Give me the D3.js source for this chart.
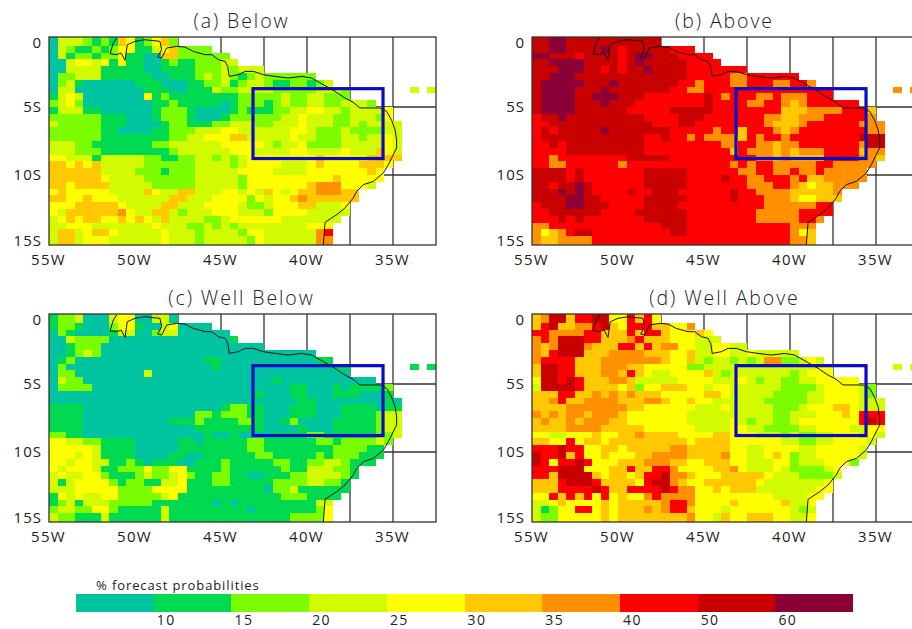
<!DOCTYPE html>
<html><head><meta charset="utf-8">
<script src="https://cdn.jsdelivr.net/npm/d3@7"></script>
<style>
html,body{margin:0;padding:0;background:#fff;overflow:hidden}
text{font-family:"Open Sans","DejaVu Sans",sans-serif;fill:#222}
</style></head><body>
<svg id="c" width="912" height="629"></svg>
<script>
// Probability class of each 0.5 degree cell: one character per column, from 55W eastward, one row per 0.5 degree of latitude.
const classColors=["#00c4a0","#00da50","#7cfc00","#d2fa00","#ffff00","#ffc800","#ff9000","#ff0000","#c80000","#8c0038"];
const barTickLabels=["10","15","20","25","30","35","40","50","60"];
const panelTitles=["(a) Below","(b) Above","(c) Well Below","(d) Well Above"];
const lonTicks=[-55,-50,-45,-40,-35];
const lonLabels=["55W","50W","45W","40W","35W"];
const latTicks=[-0.3,-5,-10,-14.85];
const latLabels=["0","5S","10S","15S"];
const gridLons=[-52.5,-50,-47.5,-45,-42.5,-40,-37.5,-35];
const gridLats=[-5,-10];
const boxLons=[-43.14,-35.58];
const boxLats=[-3.65,-8.79];
const coast=[[-51.07,0.07],[-51.26,-0.29],[-51.45,-1.08],[-51.07,-1.15],[-50.81,-1.03],[-50.58,-1.57],[-50.45,-0.42],[-50,-0.17],[-49.42,-0.05],[-48.55,-0.17],[-48.45,-0.78],[-48.68,-1.32],[-48.45,-1.4],[-48.16,-0.66],[-47.58,-0.54],[-47.09,-0.59],[-46.61,-0.91],[-45.93,-1.15],[-45.54,-1.15],[-45.15,-1.52],[-44.77,-1.64],[-44.61,-2.01],[-44.52,-2.75],[-43.99,-2.62],[-43.6,-2.38],[-43.12,-2.38],[-42.54,-2.62],[-41.86,-2.75],[-41.09,-2.87],[-40.31,-2.75],[-39.73,-2.87],[-38.95,-3.43],[-38.37,-3.85],[-37.79,-4.34],[-37.31,-4.66],[-36.92,-5.07],[-35.76,-5.07],[-35.37,-5.32],[-35.08,-5.98],[-34.88,-6.67],[-34.79,-7.4],[-34.79,-8.01],[-35.08,-8.75],[-35.27,-9.24],[-35.56,-9.85],[-36.14,-10.47],[-36.72,-10.71],[-37.11,-11.2],[-37.31,-11.69],[-37.79,-12.43],[-38.27,-12.92],[-38.95,-13.48],[-39.05,-15.15]];

const belowRows=[
"033321215412452",
"0321121244113452222",
"031221224110055222222",
"0034434141100121122233",
"0033331111100111122232333",
"0223331111110011123232123222222",
"023100000011100011223123321122123",
"03300000000111001113223333222223332.......3.3",
"13430000000412111111112222232233222",
"23420000000011211111012221232233223332",
"1333110000001222100001211122334433233334",
"2222221110001222100012222223343332233324",
"32222211100001221112233322333433322323333",
"22222211000011222333443333334432223222233",
"22222211111111223344455333334332223323343",
"33322111111122333333444443233422223333343",
"33322211111111233333344433334433334333543",
"44333133333221122332323444444445444445555",
"5545453333322222233332344443334544445554",
"555555333322212223333344443333444444454",
"555555433332222223333324444444444544444",
"55455553333322222333332444444456664443",
"454444433335433553334434354345566655",
"554454443333335533344442434456555555",
"44455555433335533344443223444553334",
"43555555643355323334443332444433333",
"3454554454543533332234444443333333",
"334443333333433322323233333333444",
"355345543333343332333324433333367",
"355344433333343332333332433333366",
"355344433333343332333332433333366"];

const aboveRows=[
"889988888888888",
"8899888898788888777",
"998887888878998887777",
"8899998888789888887777",
"8889998878788988887777777",
"8899988888888888887777766777777",
"899999888988888887767776677766776",
"89999888988888887766 777777777777777 .......6.6",
"89999889998887777777876777667666777",
"89999888988877777777877776677656777777",
"8999988888877777888887777777755566667775",
"7889888888888777788877777776655666777776",
"77888888888888777887777777765556777777666",
"78788888988888887777767757776567777777766",
"78888888888887787767666657677677777777888",
"77878888888887777777776677665667777777688",
"77778888888887777777777576665656667777566",
"77677777777888887777777777665655557777665",
"7766777777 6777777777 7776767766 6667766666",
"8888787777 7778888877 7777667766 766766666",
"8888787777 7778888877 7787766777 675566666",
"8878898777 7778888877 7777766677 65455666",
"8889898777 7877888777 7778776666 555556",
"8888998877 7778888877 7778777666 544555",
"7888998887 7778888777 7777777666 66677",
"7788888877 7788888877 7777776666 67777",
"7778787777 7778888877 7777776666 6776",
"6677777777 7777788877 7777777777 666",
"6456788777 7777778877 7777777777 645",
"6556666777 7777777777 7777777777 665",
"6556666777 7777777777 7777777777 665"];

const wellBelowRows=[
"1223000344 00330",
"1221000244 100340000",
"0210000133 00233000000",
"0032222000 0000000000 01",
"0012220000 0000000000 00000",
"0012320000 0000000000 0000000000 0",
"0120000000 0000000011 0000000000 011",
"0200000000 0000000001 0000000000 00011 .......1.1",
"0220000000 0300000000 0000000000 00000",
"0322000000 0000000000 0000001000 00000000",
"0222200000 0000000000 0000000011 0001011112",
"0000000000 0000000000 0000100011 0001110001",
"0000000000 0000000000 0000000001 10000000010",
"1111000000 0000000000 1221100011 10001111011",
"1111000000 0000000221 2221100011 10001111233",
"1111000000 0000111211 1122100120 00011111233",
"1111000000 0000000111 1111100001 00011111233",
"2211000000 0000000010 0100001111 22111111223",
"4433221111 0000011011 1112211111 1221222232",
"4444431111 0000011111 1112211111 111222211",
"4443431111 0000110011 1111221111 121222111",
"4434433112 1011100111 2111112211 22332111",
"4344431122 2422441111 2111111211 333221",
"3433442111 2322342112 2110011122 333321",
"3134444212 2113341112 2111112222 33221",
"3334444422 2244441111 1111102231 11111",
"1434334422 2223411111 1111111222 1111",
"1231333222 2211111110 1011111111 133",
"2332244211 1113111111 1110111111 124",
"3221113111 1113111111 1111111122 224",
"3221113111 1113111111 1111111122 224"];

const wellAboveRows=[
"5688577884 47574",
"5785566785 47775544 6",
"7766667755 5757754445 4",
"6768887755 5675554443 33",
"6568886555 7757566443 34433",
"6578885556 6665554453 3443343333 3",
"6777755566 6666654453 2332323662 2343",
"5887755566 6554444422 3333333333 33344 .......3.3",
"5887755566 5754334444 5323333333 23444",
"4887875556 6533333444 4333432332 23344444",
"3888875555 4524455544 3443333332 2223444432",
"5557755656 5655544444 5543333322 2233444432",
"5567556666 5556654454 4333333222 22334444333",
"5555666666 6554444443 3343333322 23444554333",
"6565665666 5444444433 3333333322 33344454777",
"5655656665 5444444433 3334323322 34444444787",
"5555666655 5554444443 3334433222 23344443344",
"4433444544 5565555444 4554443332 32233444343",
"5544745545 5555555545 5554444443 3223344443",
"7778774455 4555556655 5554433444 433444443",
"8778574454 4455666655 5564433454 233444443",
"8747787444 5556665544 5554433344 23334442",
"7778884445 5755776444 4556433343 222234",
"7758888545 5457786654 4455555433 322223",
"5557888755 5547886544 5555554333 33334",
"5557777875 5777787664 4545553333 33344",
"4475757474 5446766664 4444444433 3344",
"3345444454 5555567764 4445444445 334",
"3124477454 5556567754 4434444444 323",
"3224444454 5555555564 4354455544 334",
"3224444454 5555555564 4354455544 334"];

const panelRows=[belowRows,aboveRows,wellBelowRows,wellAboveRows];

const svg=d3.select("#c");
const W=387,H=208;
const offsets=[[49,37],[532,37],[49,314],[532,314]];
const lonScale=d3.scaleLinear().domain([-55,-32.5]).range([0,W]);
const latScale=d3.scaleLinear().domain([0.15,-15.15]).range([0,H]);
const colorOf=d3.scaleOrdinal().domain(d3.range(10)).range(classColors);
const defs=svg.append("defs");
defs.append("clipPath").attr("id","frame").append("rect").attr("width",W).attr("height",H);

panelRows.forEach((rows,p)=>{
  const g=svg.append("g").attr("transform",`translate(${offsets[p]})`);
  // grid lies under the cells
  g.selectAll("line.v").data(gridLons).join("line").attr("class","v")
    .attr("x1",d=>lonScale(d)).attr("x2",d=>lonScale(d)).attr("y1",0).attr("y2",H)
    .attr("stroke","#333").attr("stroke-width",1.3);
  g.selectAll("line.h").data(gridLats).join("line").attr("class","h")
    .attr("x1",0).attr("x2",W).attr("y1",d=>latScale(d)).attr("y2",d=>latScale(d))
    .attr("stroke","#333").attr("stroke-width",1.3);
  const cells=[];
  rows.forEach((row,j)=>{
    row.replace(/ /g,"").split("").forEach((c,i)=>{
      if(c!==".") cells.push({i,j,c:+c});
    });
  });
  const inner=g.append("g").attr("clip-path","url(#frame)");
  inner.selectAll("rect").data(cells).join("rect")
    .attr("shape-rendering","crispEdges")
    .attr("x",d=>lonScale(-55+d.i*0.5))
    .attr("width",lonScale(-54.5)-lonScale(-55))
    .attr("y",d=>d.j===0?0:latScale(-d.j*0.5))
    .attr("height",d=>d.j===0?latScale(-0.5):latScale(-0.5)-latScale(0))
    .attr("fill",d=>colorOf(d.c));
  const line=d3.line().x(d=>lonScale(d[0])).y(d=>latScale(d[1]));
  inner.append("path").attr("d",line(coast)).attr("fill","none").attr("stroke","#111").attr("stroke-width",1);
  g.append("rect").attr("width",W).attr("height",H).attr("fill","none").attr("stroke","#333").attr("stroke-width",1.3);
  g.append("rect")
    .attr("x",lonScale(boxLons[0])).attr("width",lonScale(boxLons[1])-lonScale(boxLons[0]))
    .attr("y",latScale(boxLats[0])).attr("height",latScale(boxLats[1])-latScale(boxLats[0]))
    .attr("fill","none").attr("stroke","#0a0ac8").attr("stroke-width",3.2);
  // axes
  const ax=d3.axisBottom(lonScale).tickValues(lonTicks).tickSize(0).tickPadding(9).tickFormat((d,i)=>lonLabels[i]);
  const axg=g.append("g").attr("transform",`translate(0,${H})`).call(ax);
  axg.select(".domain").remove();
  axg.selectAll("text").style("font-size","15px").style("letter-spacing","1.3px").attr("fill","#222").attr("dx","-1");
  const ay=d3.axisLeft(latScale).tickValues(latTicks).tickSize(0).tickPadding(7).tickFormat((d,i)=>latLabels[i]);
  const ayg=g.append("g").call(ay);
  ayg.select(".domain").remove();
  ayg.selectAll("text").style("font-size","15px").style("letter-spacing","1px").attr("fill","#222");
  g.append("text").attr("x",W/2-1).attr("y",-9).attr("text-anchor","middle")
    .style("font-size","19.5px").style("letter-spacing","1.9px").style("font-weight","300").text(panelTitles[p]);
});

// colour bar
const barX=d3.scaleLinear().domain([0,10]).range([76,853]);
const bar=svg.append("g");
bar.selectAll("rect").data(classColors).join("rect")
  .attr("shape-rendering","crispEdges")
  .attr("x",(d,i)=>barX(i)).attr("width",(d,i)=>barX(i+1)-barX(i))
  .attr("y",594).attr("height",17.5).attr("fill",d=>d);
bar.selectAll("text.t").data(barTickLabels).join("text").attr("class","t")
  .attr("x",(d,i)=>barX(i+1)+12.5).attr("y",625).attr("text-anchor","middle")
  .style("font-size","14px").style("letter-spacing","1.4px").text(d=>d);
bar.append("text").attr("x",96).attr("y",590).style("font-size","13px").style("letter-spacing","0.9px").text("% forecast probabilities");
</script>
</body></html>
